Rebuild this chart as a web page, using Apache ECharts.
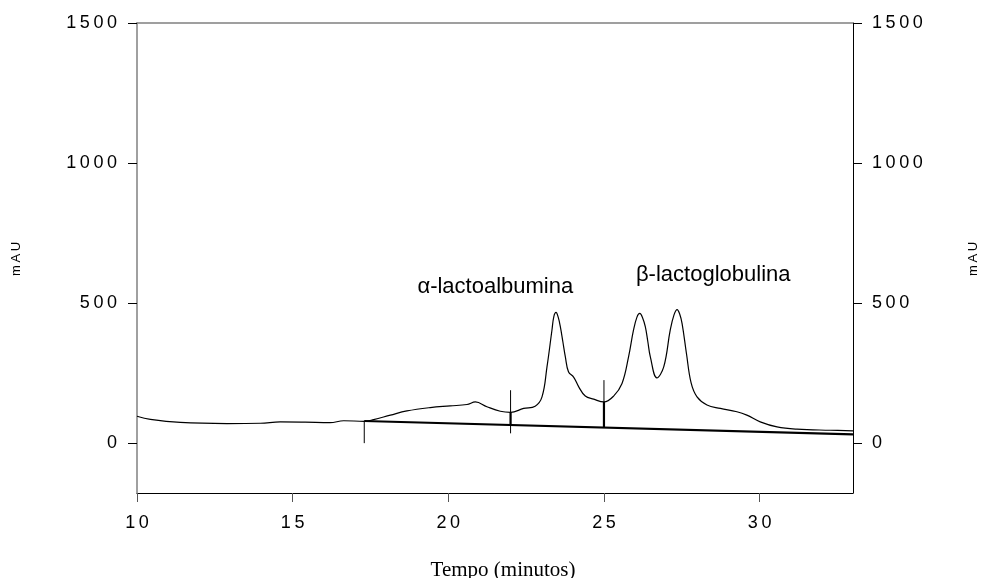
<!DOCTYPE html>
<html>
<head>
<meta charset="utf-8">
<script src="https://cdn.jsdelivr.net/npm/echarts@6.0.0/dist/echarts.min.js"></script>
<style>
  html, body { margin: 0; padding: 0; background: #fff; }
  #chart { width: 986px; height: 578px; }
</style>
</head>
<body>
<div id="chart"></div>
<script>
// chromatogram trace (minutes, mAU)
const timeMin = [10, 10.43, 11.39, 12.89, 13.96, 14.6, 15.4, 16.2, 16.64, 17.3, 17.6, 18.14, 18.67, 19.42, 20.06, 20.6, 20.87, 21.24, 21.67, 22.0,
    22.42, 22.79, 23.01, 23.17, 23.33, 23.39, 23.46, 23.53, 23.6, 23.68, 23.76, 23.86, 24.03, 24.19, 24.4, 24.67, 25.0, 25.31, 25.58, 25.79,
    25.95, 26.06, 26.15, 26.24, 26.33, 26.41, 26.49, 26.7, 26.92, 27.13, 27.25, 27.35, 27.43, 27.51, 27.65, 27.8, 27.99, 28.31, 28.74, 29.27,
    29.59, 30.02, 30.56, 31.2, 32.27, 33];
const signal = [96, 85, 74, 70, 71, 76, 75, 73, 80, 78, 84, 100, 115, 127, 133, 138, 147, 130, 114, 110,
    124, 132, 165, 272, 404, 452, 467, 450, 415, 362, 308, 255, 235, 201, 168, 157, 147, 168, 213, 308,
    404, 450, 463, 448, 415, 362, 308, 233, 272, 404, 458, 477, 462, 427, 320, 215, 165, 136, 124, 112,
    100, 76, 58, 50, 46, 44];

// integration baseline
const baseX = [17.3, 33];
const baseY = [79, 31];

// peak cut markers (thin) and drop lines (thick)
const markX = [17.3, 22, 25];
const markTop = [80, 189, 225];
const markBottom = [0, 35, 58];
const dropX = [22, 25];
const dropTop = [110, 147];
const dropBottom = [64, 55];

// peak names
const peakNames = ['α-lactoalbumina', 'β-lactoglobulina'];
const peakX = [21.51, 28.51];
const peakY = [557, 600];

const xTicks = [10, 15, 20, 25, 30];
const yTicks = [0, 500, 1000, 1500];

const font = 'Liberation Sans, Arial, sans-serif';
const spaced = (v) => String(v).split('').join('\u2009');

let chart = echarts.init(document.getElementById('chart'));

let series = [
    {
        type: 'line',
        data: timeMin.map((t, i) => [t, signal[i]]),
        smooth: 0.4,
        showSymbol: false,
        lineStyle: {color: '#000', width: 1.2}
    },
    {
        type: 'line',
        data: baseX.map((t, i) => [t, baseY[i]]),
        showSymbol: false,
        lineStyle: {color: '#000', width: 2.2}
    }
];

markX.forEach((t, i) => {
    series.push({
        type: 'line',
        data: [[t, markTop[i]], [t, markBottom[i]]],
        showSymbol: false,
        lineStyle: {color: '#000', width: 1}
    });
});

dropX.forEach((t, i) => {
    series.push({
        type: 'line',
        data: [[t, dropTop[i]], [t, dropBottom[i]]],
        showSymbol: false,
        lineStyle: {color: '#000', width: 2.2}
    });
});

series.push({
    type: 'scatter',
    data: peakNames.map((n, i) => [peakX[i], peakY[i], n]),
    symbolSize: 0,
    silent: true,
    itemStyle: {opacity: 1},
    label: {
        show: true,
        position: 'inside',
        formatter: (p) => p.data[2],
        color: '#000',
        opacity: 1,
        fontSize: 22,
        fontFamily: font
    }
});

chart.setOption({
    animation: false,
    grid: {left: 137, right: 133, top: 23, bottom: 85},
    xAxis: [
        {
            type: 'value',
            min: 10,
            max: 33,
            interval: 5,
            position: 'bottom',
            axisLine: {onZero: false, lineStyle: {color: '#000', width: 1}},
            axisTick: {inside: false, length: 9, customValues: xTicks, lineStyle: {color: '#555'}},
            axisLabel: {margin: 21, fontSize: 18, fontFamily: font, color: '#000', customValues: xTicks, formatter: spaced},
            splitLine: {show: false}
        },
        {
            type: 'value',
            min: 10,
            max: 33,
            position: 'top',
            axisLine: {onZero: false, lineStyle: {color: '#808080', width: 1.5}},
            axisTick: {show: false},
            axisLabel: {show: false},
            splitLine: {show: false}
        }
    ],
    yAxis: [
        {
            type: 'value',
            min: -178,
            max: 1500,
            position: 'left',
            axisLine: {show: true, onZero: false, lineStyle: {color: '#808080', width: 1.5}},
            axisTick: {show: true, length: 9, customValues: yTicks, lineStyle: {color: '#000'}},
            axisLabel: {margin: 20, fontSize: 18, fontFamily: font, color: '#000', customValues: yTicks, formatter: spaced},
            splitLine: {show: false}
        },
        {
            type: 'value',
            min: -178,
            max: 1500,
            position: 'right',
            axisLine: {show: true, onZero: false, lineStyle: {color: '#000', width: 1}},
            axisTick: {show: true, length: 9, customValues: yTicks, lineStyle: {color: '#000'}},
            axisLabel: {margin: 19, fontSize: 18, fontFamily: font, color: '#000', customValues: yTicks, formatter: spaced},
            splitLine: {show: false}
        }
    ],
    graphic: [
        {
            type: 'text',
            x: 16, y: 259, rotation: Math.PI / 2,
            style: {text: 'm\u2009A\u2009U', font: '13px ' + font, fill: '#000', align: 'center', verticalAlign: 'middle'}
        },
        {
            type: 'text',
            x: 973, y: 259, rotation: Math.PI / 2,
            style: {text: 'm\u2009A\u2009U', font: '13px ' + font, fill: '#000', align: 'center', verticalAlign: 'middle'}
        },
        {
            type: 'text',
            x: 503, y: 570,
            style: {text: 'Tempo (minutos)', font: '21px Liberation Serif, Times New Roman, serif', fill: '#000', align: 'center', verticalAlign: 'middle'}
        }
    ],
    series: series
});
</script>
</body>
</html>
